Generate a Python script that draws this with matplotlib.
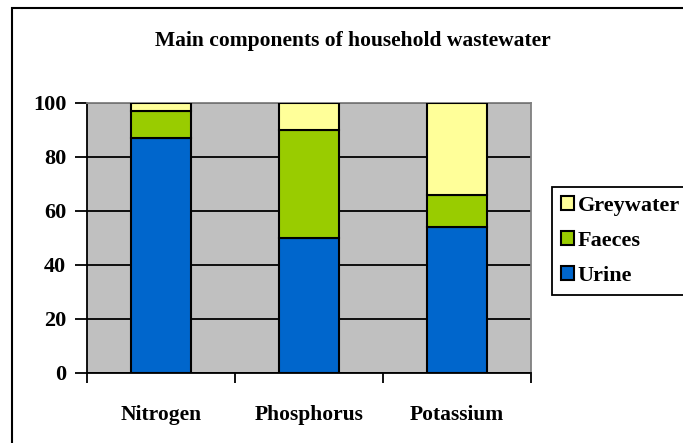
import matplotlib
matplotlib.use('Agg')
import matplotlib.pyplot as plt
from matplotlib.patches import Rectangle
import numpy as np

## Data
nutrients = ["Nitrogen", "Phosphorus", "Potassium"]
urine = [87, 50, 54]
faeces = [10, 40, 12]
greywater = [3, 10, 34]
series_names = ["Urine", "Faeces", "Greywater"]
series_colours = ["#0066CC", "#99CC00", "#FFFF99"]
y_ticks = [0, 20, 40, 60, 80, 100]

plt.rcParams['font.family'] = ['Liberation Serif', 'DejaVu Serif']
plt.rcParams['font.weight'] = 'bold'
fs = 15.5

fig = plt.figure(figsize=(6.83, 4.43), dpi=100)
ax = fig.add_axes([87 / 683, 1 - 373 / 443, 444 / 683, 270 / 443])
ax.set_facecolor("#C0C0C0")

x = np.arange(len(nutrients))
bottom = np.zeros(len(nutrients))
for vals, name, col in zip([urine, faeces, greywater], series_names, series_colours):
    ax.bar(x, vals, width=0.405, bottom=bottom, color=col, edgecolor="black",
           linewidth=1.5, label=name, zorder=3)
    bottom += np.array(vals)

ax.set_xlim(-0.5, len(nutrients) - 0.5)
ax.set_ylim(0, 100)
ax.set_yticks(y_ticks)
ax.set_yticklabels([str(v) for v in y_ticks], fontsize=fs + 0.5, fontweight='bold')
ax.yaxis.grid(True, color="black", linewidth=1.3, zorder=0)
ax.set_axisbelow(True)

# category ticks sit between the bars, labels under the bars
ax.set_xticks(np.arange(len(nutrients) + 1) - 0.5)
ax.set_xticklabels([])
ax.set_xticks(x, minor=True)
ax.set_xticklabels(nutrients, minor=True, fontsize=fs, fontweight='bold')
ax.tick_params(axis='x', which='minor', length=0, pad=23)
ax.tick_params(axis='x', which='major', length=7, width=1.3, direction='out')
ax.tick_params(axis='y', length=9, width=1.3, direction='out', pad=6)

for side in ["top", "right"]:
    ax.spines[side].set_color("#808080")
    ax.spines[side].set_linewidth(1.3)
for side in ["left", "bottom"]:
    ax.spines[side].set_color("black")
    ax.spines[side].set_linewidth(1.3)

fig.text(353 / 683, 1 - 41 / 443, "Main components of household wastewater",
         ha="center", va="center", fontsize=fs, fontweight='bold')

handles, labels = ax.get_legend_handles_labels()
leg = fig.legend(handles[::-1], labels[::-1], loc="upper left",
                 bbox_to_anchor=(552 / 683, 1 - 187 / 443),
                 fancybox=False, framealpha=1, edgecolor="black",
                 prop={'size': fs + 0.5, 'weight': 'bold'},
                 handlelength=0.6, handleheight=0.6, handletextpad=0.15,
                 labelspacing=0.68, borderpad=0.4, borderaxespad=0)
leg.get_frame().set_linewidth(1.3)

# outer chart frame
fig.patches.append(Rectangle((12 / 683, -0.1), 1.1, 1.1 - 8 / 443,
                             transform=fig.transFigure, fill=False,
                             edgecolor="black", linewidth=1.5))

plt.savefig("out.png", dpi=100)
